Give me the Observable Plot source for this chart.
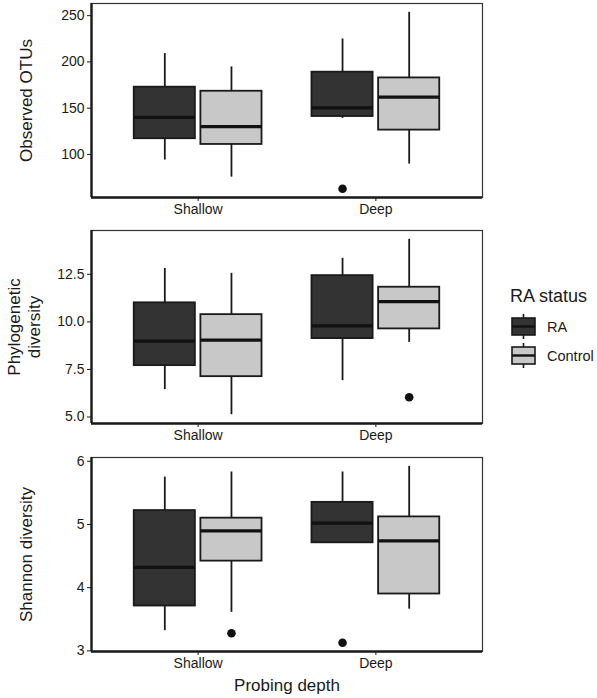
<!DOCTYPE html>
<html><head><meta charset="utf-8">
<script src="https://cdn.jsdelivr.net/npm/d3@7"></script>
<script src="https://cdn.jsdelivr.net/npm/@observablehq/plot@0.6"></script>
<style>
body{margin:0;background:#fff;font-family:"Liberation Sans",Arial,sans-serif;}
#chart{position:relative;width:597px;height:698px;}
#chart svg{display:block;}
#legend{position:absolute;left:500px;top:276px;}
</style></head><body><div id="chart"><div id="panels"></div><div id="legend"></div></div>
<script>
// ---- categories ----
const depths = ["Shallow", "Deep"];
const statuses = ["RA", "Control"];
const statusFills = ["#333333", "#c8c8c8"];
const groupDepth = ["Shallow", "Shallow", "Deep", "Deep"];
const groupStatus = ["RA", "Control", "RA", "Control"];

// ---- Observed OTUs ----
const otuWhiskerLow  = [94, 75.5, 139, 89.6];
const otuQ1          = [117, 110.8, 141, 126.3];
const otuMedian      = [140, 130, 150.3, 162];
const otuQ3          = [172.7, 168.3, 188.9, 182.7];
const otuWhiskerHigh = [209, 194.6, 224.8, 253.6];
const otuOutDepth = ["Deep"], otuOutStatus = ["RA"], otuOutValue = [63];
const otuTicks = [100, 150, 200, 250];

// ---- Phylogenetic diversity ----
const pdWhiskerLow  = [6.44, 5.12, 6.91, 8.92];
const pdQ1          = [7.70, 7.12, 9.12, 9.63];
const pdMedian      = [8.99, 9.04, 9.79, 11.06];
const pdQ3          = [11.0, 10.38, 12.43, 11.82];
const pdWhiskerHigh = [12.81, 12.55, 13.34, 14.34];
const pdOutDepth = ["Deep"], pdOutStatus = ["Control"], pdOutValue = [6.04];
const pdTicks = [5, 7.5, 10, 12.5];

// ---- Shannon diversity ----
const shWhiskerLow  = [3.32, 3.61, 4.71, 3.66];
const shQ1          = [3.71, 4.42, 4.71, 3.90];
const shMedian      = [4.32, 4.90, 5.02, 4.74];
const shQ3          = [5.22, 5.10, 5.35, 5.12];
const shWhiskerHigh = [5.75, 5.83, 5.83, 5.92];
const shOutDepth = ["Shallow", "Deep"], shOutStatus = ["Control", "RA"], shOutValue = [3.28, 3.13];
const shTicks = [3, 4, 5, 6];

const FONT = '"Liberation Sans", Arial, sans-serif';
const INK = "#1a1a1a";

// ggplot-like discrete positions with dodge
const DODGE = 0.1875, HALF = 0.172;
const xPos = d => depths.indexOf(d.depth) + 1 + (statuses.indexOf(d.status) === 0 ? -DODGE : DODGE);

function rowsOf(lo, q1, med, q3, hi) {
  return groupDepth.map((d, i) => ({depth: d, status: groupStatus[i], lo: lo[i], q1: q1[i], median: med[i], q3: q3[i], hi: hi[i]}));
}
function outsOf(dep, st, val) {
  return dep.map((d, i) => ({depth: d, status: st[i], value: val[i]}));
}

function panel({rows, outs, ticks, tickFormat, label, labelDx, height, marginTop, marginBottom, xLabel}) {
  const vals = [...rows.flatMap(r => [r.lo, r.hi]), ...outs.map(o => o.value)];
  const [mn, mx] = d3.extent(vals);
  const pad = (mx - mn) * 0.05;
  const marks = [
    Plot.frame({stroke: "#333", strokeWidth: 1.2}),
    Plot.ruleX(rows, {x: xPos, y1: "lo", y2: "hi", stroke: INK, strokeWidth: 1.8}),
    Plot.rectY(rows, {x1: d => xPos(d) - HALF, x2: d => xPos(d) + HALF, y1: "q1", y2: "q3", fill: "status", stroke: INK, strokeWidth: 1.8}),
    Plot.ruleY(rows, {x1: d => xPos(d) - HALF, x2: d => xPos(d) + HALF, y: "median", stroke: "#111", strokeWidth: 3.2}),
    Plot.dot(outs, {x: xPos, y: "value", r: 4.3, fill: "#111", stroke: "none"}),
    Plot.axisY({ticks, tickFormat, tickSize: 4, tickPadding: 3, fontSize: 14, label: null}),
    Plot.axisX({ticks: depths.map((d, i) => i + 1), tickFormat: v => depths[v - 1], tickSize: 4, tickPadding: 3, fontSize: 14, label: null}),
    Plot.ruleX([0.4], {stroke: INK, strokeWidth: 2.4}),
    Plot.ruleY([mn - pad], {stroke: INK, strokeWidth: 2.4}),
    Plot.text([label], {text: d => d, frameAnchor: "left", textAnchor: "middle", rotate: -90, dx: labelDx, fontSize: 17, lineHeight: 1.2, lineAnchor: "middle", fill: INK})
  ];
  if (xLabel) marks.push(Plot.text([xLabel], {text: d => d, frameAnchor: "bottom", textAnchor: "middle", dy: 34, fontSize: 17, lineAnchor: "middle", fill: INK}));
  return Plot.plot({
    width: 490, height, marginLeft: 91, marginRight: 8, marginTop, marginBottom,
    style: {fontFamily: FONT, color: INK, background: "white", overflow: "visible"},
    x: {domain: [0.4, depths.length + 0.6]},
    y: {domain: [mn - pad, mx + pad]},
    color: {domain: statuses, range: statusFills},
    marks
  });
}

const host = document.getElementById("panels");
const p1 = panel({rows: rowsOf(otuWhiskerLow, otuQ1, otuMedian, otuQ3, otuWhiskerHigh),
  outs: outsOf(otuOutDepth, otuOutStatus, otuOutValue), ticks: otuTicks, tickFormat: d3.format("d"),
  label: "Observed OTUs", labelDx: -66, height: 225, marginTop: 3, marginBottom: 28});
const p2 = panel({rows: rowsOf(pdWhiskerLow, pdQ1, pdMedian, pdQ3, pdWhiskerHigh),
  outs: outsOf(pdOutDepth, pdOutStatus, pdOutValue), ticks: pdTicks, tickFormat: d3.format(".1f"),
  label: "Phylogenetic\ndiversity", labelDx: -68, height: 225, marginTop: 5, marginBottom: 27});
const p3 = panel({rows: rowsOf(shWhiskerLow, shQ1, shMedian, shQ3, shWhiskerHigh),
  outs: outsOf(shOutDepth, shOutStatus, shOutValue), ticks: shTicks, tickFormat: d3.format("d"),
  label: "Shannon diversity", labelDx: -66, height: 248, marginTop: 7, marginBottom: 47,
  xLabel: "Probing depth"});
[p1, p2, p3].forEach(p => host.appendChild(p));

// ---- legend ----
const lg = d3.select("#legend").append("svg").attr("width", 97).attr("height", 100)
  .style("font-family", FONT);
lg.append("text").attr("x", 10).attr("y", 26).attr("font-size", 18).attr("fill", INK).text("RA status");
const item = lg.selectAll("g.item").data(statuses).join("g").attr("class", "item")
  .attr("transform", (d, i) => `translate(12, ${38 + i * 29})`);
item.append("line").attr("x1", 11.5).attr("x2", 11.5).attr("y1", 0).attr("y2", 25).attr("stroke", INK).attr("stroke-width", 1.6);
item.append("rect").attr("x", 0).attr("y", 4).attr("width", 23).attr("height", 17)
  .attr("fill", (d, i) => statusFills[i]).attr("stroke", INK).attr("stroke-width", 1.6);
item.append("line").attr("x1", 0).attr("x2", 23).attr("y1", 12.5).attr("y2", 12.5).attr("stroke", "#111").attr("stroke-width", 2.4);
item.append("text").attr("x", 35).attr("y", 12.5).attr("dy", "0.35em").attr("font-size", 14.5).attr("fill", INK).text(d => d);
</script></body></html>
